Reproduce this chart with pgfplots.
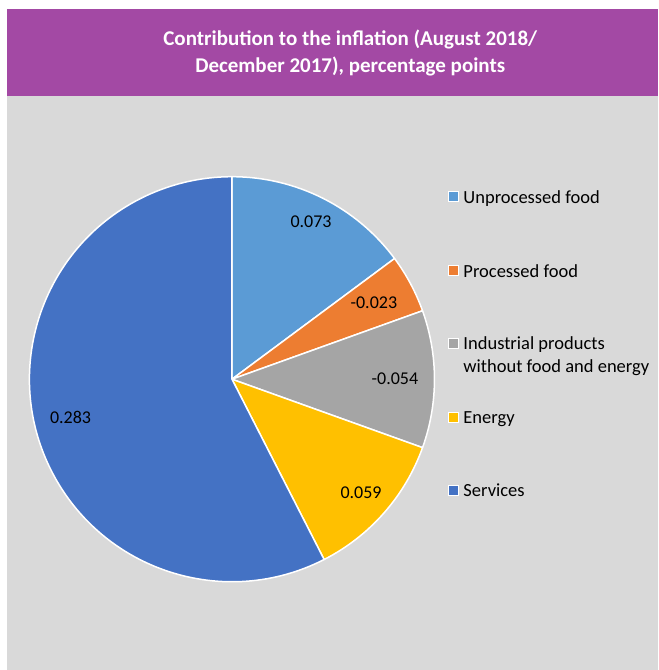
\documentclass[border=0pt]{standalone}
\usepackage{fontspec}
\setmainfont{Carlito}
\usepackage{pgfplots}
\usepackage{pgfplotstable}
\pgfplotsset{compat=1.18}

\definecolor{unproc}{HTML}{5B9BD5}
\definecolor{proc}{HTML}{ED7D31}
\definecolor{indus}{HTML}{A5A5A5}
\definecolor{energy}{HTML}{FFC000}
\definecolor{serv}{HTML}{4472C4}
\definecolor{band}{HTML}{A349A4}
\definecolor{panel}{HTML}{D9D9D9}

% contributions, slice colour, label radius (px)
\pgfplotstableread{
value col lr
0.073 unproc 176
-0.023 proc 161
-0.054 indus 163
0.059 energy 172
0.283 serv 166
}\piedata

\begin{document}
\begin{tikzpicture}
\begin{axis}[
    width=658bp, height=670bp, scale only axis,
    xmin=0, xmax=658, ymin=0, ymax=670, y dir=reverse,
    hide axis, clip=false]
\pgfplotsextra{%
  \fill[white] (axis cs:0,0) rectangle (axis cs:658,670);
  \fill[band] (axis cs:7,9) rectangle (axis cs:658,96);
  \fill[panel] (axis cs:7,96) rectangle (axis cs:658,670);
  \node[white, inner sep=0pt, align=center,
        font=\bfseries\fontsize{21bp}{27.2bp}\selectfont]
    at (axis cs:350,53) {Contribution to the inflation (August 2018/\\December 2017), percentage points};
  % total of absolute contributions
  \gdef\tot{0}%
  \foreach \i in {0,...,4}{%
    \pgfplotstablegetelem{\i}{value}\of\piedata
    \pgfmathsetmacro\t{\tot+abs(\pgfplotsretval)}%
    \xdef\tot{\t}}%
  \gdef\ang{90}%
  \foreach \i in {0,...,4}{%
    \pgfplotstablegetelem{\i}{value}\of\piedata \let\v\pgfplotsretval
    \pgfplotstablegetelem{\i}{col}\of\piedata \let\slicecol\pgfplotsretval
    \pgfplotstablegetelem{\i}{lr}\of\piedata \let\lr\pgfplotsretval
    \pgfmathsetmacro\sweep{360*abs(\v)/\tot}%
    \pgfmathsetmacro\aend{\ang-\sweep}%
    \pgfmathsetmacro\amid{\ang-\sweep/2}%
    \filldraw[fill=\slicecol, draw=white, line width=1.5bp, line join=round]
      (axis cs:231.7,379.2) -- ++(\ang:202.5bp)
      arc[start angle=\ang, end angle=\aend, radius=202.5bp] -- cycle;
    \path (axis cs:231.7,379.2) ++(\amid:\lr bp)
      node[anchor=base, inner sep=0pt, yshift=-5.7bp,
           font=\fontsize{18bp}{22bp}\selectfont] {\v};
    \xdef\ang{\aend}}%
  % legend
  \foreach \yc/\lc/\txt in {196.5/unproc/Unprocessed food,
                            270.5/proc/Processed food,
                            343/indus/Industrial products,
                            417/energy/Energy,
                            490/serv/Services}{%
    \filldraw[fill=\lc, draw=white, line width=0.6bp]
      (axis cs:447.7,\yc-5) rectangle (axis cs:457.7,\yc+5);
    \node[anchor=base west, inner sep=0pt, font=\fontsize{18.5bp}{22bp}\selectfont]
      at (axis cs:463,\yc+6.5) {\txt};}
  \node[anchor=base west, inner sep=0pt, font=\fontsize{18.5bp}{22bp}\selectfont]
    at (axis cs:463,372) {without food and energy};
}
\end{axis}
\end{tikzpicture}
\end{document}
